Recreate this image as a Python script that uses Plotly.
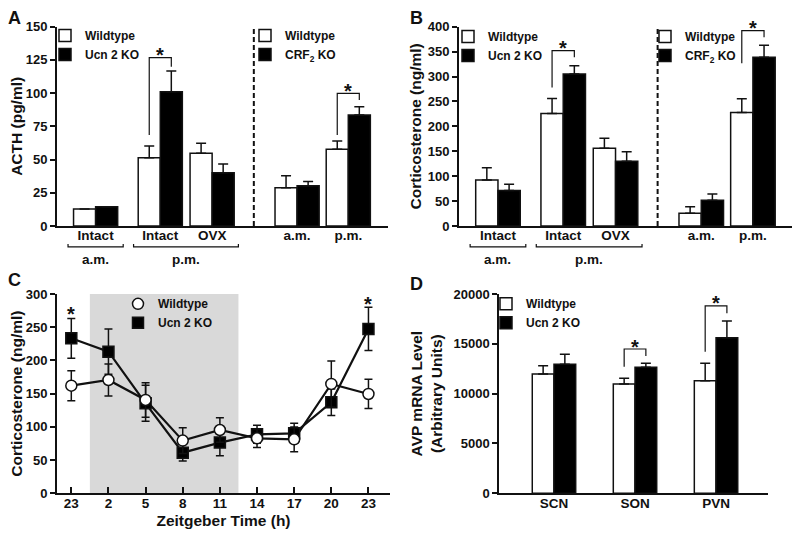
import plotly.graph_objects as go

FONT = "Liberation Sans, Arial, Helvetica, sans-serif"
# the page body adds an 8px margin, so the figure is sized to fill the rest of the window
OFF = 8
W, H = 800 - OFF, 537 - OFF

# ---------------- data ----------------
# Panel A: ACTH (pg/ml)
a_ucn_groups = ["Intact", "Intact", "OVX"]
a_ucn_wt = [12.8, 51.4, 54.7]
a_ucn_wt_err = [0, 8.8, 7.5]
a_ucn_ko = [14.5, 101.1, 40.1]
a_ucn_ko_err = [0, 15.5, 6.6]
a_crf_groups = ["a.m.", "p.m."]
a_crf_wt = [28.8, 57.7]
a_crf_wt_err = [9.1, 6.3]
a_crf_ko = [30.3, 83.5]
a_crf_ko_err = [3.1, 6.3]

# Panel B: Corticosterone (ng/ml)
b_ucn_wt = [92.3, 226.0, 155.9]
b_ucn_wt_err = [24.7, 30.0, 20.0]
b_ucn_ko = [71.0, 305.0, 129.8]
b_ucn_ko_err = [12.6, 16.7, 19.4]
b_crf_wt = [25.4, 228.0]
b_crf_wt_err = [13.4, 27.5]
b_crf_ko = [51.5, 338.5]
b_crf_ko_err = [12.7, 24.5]

# Panel C: circadian corticosterone
zt_labels = ["23", "2", "5", "8", "11", "14", "17", "20", "23"]
c_wt = [162.0, 170.6, 140.5, 79.3, 95.3, 82.8, 81.3, 164.6, 149.5]
c_wt_err = [22.5, 24.0, 26.0, 19.5, 18.6, 14.0, 18.6, 34.6, 22.0]
c_ko = [233.3, 213.2, 135.5, 61.2, 76.3, 88.8, 90.3, 137.0, 247.4]
c_ko_err = [30.0, 34.0, 27.0, 12.5, 19.6, 13.6, 15.0, 20.0, 32.5]

# Panel D: AVP mRNA
d_regions = ["SCN", "SON", "PVN"]
d_wt = [11970, 10970, 11300]
d_wt_err = [830, 570, 1750]
d_ko = [12940, 12640, 15610]
d_ko_err = [1010, 410, 1680]

# ---------------- layout helpers ----------------
ab_pos_ucn = [1.75, 4.68, 7.03]
ab_pos_crf = [10.88, 13.2]
ab_divider = 8.92
am_span = (0.5, 3.0)
pm_span = (3.47, 8.22)
d_pos = [0, 1, 2]
d_bw = 0.268

WT_FILL, KO_FILL, INK = "white", "black", "#111111"


def px(x):
    return (x - OFF) / W


def py(y):
    return 1 - (y - OFF) / H


def err(arr):
    return dict(type="data", array=arr, arrayminus=[0] * len(arr), symmetric=False,
                color=INK, thickness=1.5, width=5)


def bar(x, y, e, fill, name, xa, ya, legend, offset, width):
    return go.Bar(x=x, y=y, error_y=err(e), name=name, xaxis=xa, yaxis=ya,
                  legend=legend, offset=offset, width=width,
                  marker=dict(color=fill, line=dict(color=INK, width=1.5)))


fig = go.Figure()
# Panel A
fig.add_trace(bar(ab_pos_ucn, a_ucn_wt, a_ucn_wt_err, WT_FILL, "Wildtype", "x", "y", "legend", -1, 1))
fig.add_trace(bar(ab_pos_ucn, a_ucn_ko, a_ucn_ko_err, KO_FILL, "Ucn 2 KO", "x", "y", "legend", 0, 1))
fig.add_trace(bar(ab_pos_crf, a_crf_wt, a_crf_wt_err, WT_FILL, "Wildtype", "x", "y", "legend2", -1, 1))
fig.add_trace(bar(ab_pos_crf, a_crf_ko, a_crf_ko_err, KO_FILL, "CRF<sub>2</sub> KO", "x", "y", "legend2", 0, 1))
# Panel B
fig.add_trace(bar(ab_pos_ucn, b_ucn_wt, b_ucn_wt_err, WT_FILL, "Wildtype", "x2", "y2", "legend3", -1, 1))
fig.add_trace(bar(ab_pos_ucn, b_ucn_ko, b_ucn_ko_err, KO_FILL, "Ucn 2 KO", "x2", "y2", "legend3", 0, 1))
fig.add_trace(bar(ab_pos_crf, b_crf_wt, b_crf_wt_err, WT_FILL, "Wildtype", "x2", "y2", "legend4", -1, 1))
fig.add_trace(bar(ab_pos_crf, b_crf_ko, b_crf_ko_err, KO_FILL, "CRF<sub>2</sub> KO", "x2", "y2", "legend4", 0, 1))
# Panel D
fig.add_trace(bar(d_pos, d_wt, d_wt_err, WT_FILL, "Wildtype", "x4", "y4", "legend6", -d_bw, d_bw))
fig.add_trace(bar(d_pos, d_ko, d_ko_err, KO_FILL, "Ucn 2 KO", "x4", "y4", "legend6", 0, d_bw))

# Panel C
c_x = list(range(len(zt_labels)))
for vals in (c_wt, c_ko):
    fig.add_trace(go.Scatter(x=c_x, y=vals, mode="lines", xaxis="x3", yaxis="y3",
                             line=dict(color=INK, width=2.2), showlegend=False, hoverinfo="skip"))
fig.add_trace(go.Scatter(x=c_x, y=c_ko, mode="markers", name="Ucn 2 KO", xaxis="x3", yaxis="y3",
                         legend="legend5",
                         marker=dict(symbol="square", size=11, color=KO_FILL, line=dict(color=INK, width=1.5)),
                         error_y=dict(type="data", array=c_ko_err, color=INK, thickness=1.5, width=4)))
fig.add_trace(go.Scatter(x=c_x, y=c_wt, mode="markers", name="Wildtype", xaxis="x3", yaxis="y3",
                         legend="legend5",
                         marker=dict(symbol="circle", size=11, color=WT_FILL, line=dict(color=INK, width=1.5)),
                         error_y=dict(type="data", array=c_wt_err, color=INK, thickness=1.5, width=4)))

# ---------------- axes ----------------
tickf = dict(family=FONT, size=13.5, color=INK, weight="bold")
ytickf = dict(family=FONT, size=13, color=INK, weight="bold")
titlef = dict(family=FONT, size=15.5, color=INK, weight="bold")

common_y = dict(showline=True, linewidth=2, linecolor=INK, ticks="outside", ticklen=5, tickwidth=1.5,
                tickcolor=INK, showgrid=False, zeroline=False, tickfont=ytickf, automargin=False)
common_x = dict(showline=True, linewidth=2, linecolor=INK, showgrid=False, zeroline=False,
                tickfont=tickf, automargin=False, ticklabelstandoff=-4)

ab_ticks = ab_pos_ucn + ab_pos_crf
ab_text = a_ucn_groups + a_crf_groups

fig.update_layout(
    width=W, height=H, margin=dict(l=0, r=0, t=0, b=0),
    paper_bgcolor="white", plot_bgcolor="white", barmode="overlay",
    font=dict(family=FONT, color=INK),
    xaxis=dict(common_x, anchor="y", domain=[px(57), px(388)], range=[0, 15], tickvals=ab_ticks,
               ticktext=ab_text, ticks=""),
    yaxis=dict(common_y, anchor="x", domain=[py(226), py(26.7)], range=[0, 150], dtick=25,
               title=dict(text="ACTH (pg/ml)", font=titlef, standoff=8)),
    xaxis2=dict(common_x, anchor="y2", domain=[px(459), px(793)], range=[0, 15], tickvals=ab_ticks,
                ticktext=ab_text, ticks=""),
    yaxis2=dict(common_y, anchor="x2", domain=[py(226), py(26.7)], range=[0, 400], dtick=50,
                title=dict(text="Corticosterone (ng/ml)", font=titlef, standoff=2)),
    xaxis3=dict(common_x, anchor="y3", domain=[px(57), px(390)], range=[-0.385, 8.58], tickvals=c_x,
                ticktext=zt_labels, ticks="inside", ticklen=6, tickwidth=1.5, tickcolor=INK,
                title=dict(text="Zeitgeber Time (h)", font=titlef, standoff=6)),
    yaxis3=dict(common_y, anchor="x3", domain=[py(493.3), py(294)], range=[0, 300], dtick=50,
                title=dict(text="Corticosterone (ng/ml)", font=titlef, standoff=8)),
    xaxis4=dict(common_x, anchor="y4", domain=[px(499.3), px(768.3)], range=[-0.675, 2.645], tickvals=d_pos,
                ticktext=d_regions, ticks=""),
    yaxis4=dict(common_y, anchor="x4", domain=[py(493.3), py(294)], range=[0, 20000], dtick=5000,
                tickformat="d",
                title=dict(text="AVP mRNA Level<br>(Arbitrary Units)", font=titlef, standoff=7)),
)

legf = dict(family=FONT, size=12, color=INK, weight="bold")


def leg(xc, yc):
    # xc, yc: centre of the first legend symbol in window pixels
    return dict(x=px(xc - 21), y=py(yc - 14), xanchor="left", yanchor="top", font=legf,
                bgcolor="rgba(0,0,0,0)", borderwidth=0, itemwidth=30, tracegroupgap=0,
                traceorder="normal", itemclick=False)


fig.update_layout(
    legend=leg(66, 35), legend2=leg(266, 35), legend3=leg(469, 36), legend4=leg(666, 36),
    legend5=leg(139, 303.3), legend6=leg(507, 303.3),
)
fig.update_layout(legend5=dict(traceorder="reversed"))

shapes = []
annotations = []
star_font = dict(family=FONT, size=20, color=INK, weight="bold")

# dashed dividers and group brackets (A, B)
for xa, ya in (("x", "y"), ("x2", "y2")):
    shapes.append(dict(type="line", xref=xa, yref=f"{ya} domain", x0=ab_divider, x1=ab_divider, y0=0, y1=1,
                       line=dict(color=INK, width=2, dash="5px,3px")))
    for (x0, x1), lab in ((am_span, "a.m."), (pm_span, "p.m.")):
        shapes.append(dict(type="path", xref=xa, yref=f"{ya} domain",
                           path=f"M{x0},-0.09 L{x0},-0.105 L{x1},-0.105 L{x1},-0.09",
                           line=dict(color=INK, width=1.2)))
        annotations.append(dict(xref=xa, yref=f"{ya} domain", x=(x0 + x1) / 2, y=-0.168, text=lab,
                                showarrow=False, font=tickf, yanchor="middle"))

# significance brackets: (xref, yref, xleft, xright, yleft_bottom, ytop, yright_bottom)
sig = [
    ("x", "y", ab_pos_ucn[1] - 0.5, ab_pos_ucn[1] + 0.5, 68.5, 126.7, 119.9),
    ("x", "y", ab_pos_crf[1] - 0.5, ab_pos_crf[1] + 0.5, 68.5, 99.8, 94.8),
    ("x2", "y2", ab_pos_ucn[1] - 0.5, ab_pos_ucn[1] + 0.5, 278, 351.8, 338.5),
    ("x2", "y2", ab_pos_crf[1] - 0.5, ab_pos_crf[1] + 0.5, 326.4, 392, 378.6),
    ("x4", "y4", d_pos[1] - d_bw / 2, d_pos[1] + d_bw / 2, 12700, 14480, 13780),
    ("x4", "y4", d_pos[2] - d_bw / 2, d_pos[2] + d_bw / 2, 14210, 18800, 18060),
]
for xa, ya, xl, xr, yl, yt, yr in sig:
    shapes.append(dict(type="path", xref=xa, yref=ya, path=f"M{xl},{yl} L{xl},{yt} L{xr},{yt} L{xr},{yr}",
                       line=dict(color=INK, width=1.2)))
    annotations.append(dict(xref=xa, yref=ya, x=(xl + xr) / 2, y=yt, text="*", showarrow=False,
                            font=star_font, yanchor="middle", yshift=2.5))

# panel C: dark phase shading and stars
shapes.append(dict(type="rect", xref="x3", yref="y3 domain", x0=0.5, x1=4.5, y0=0, y1=1,
                   fillcolor="#d9d9d9", line=dict(width=0), layer="below"))
for xi, ys in ((0, 277), (8, 292)):
    annotations.append(dict(xref="x3", yref="y3", x=xi, y=ys, text="*", showarrow=False,
                            font=star_font, yanchor="middle", yshift=-5))

# panel letters
for lab, xc, yc in (("A", 14, 18), ("B", 416, 18), ("C", 14, 280), ("D", 416, 284)):
    annotations.append(dict(xref="paper", yref="paper", x=px(xc), y=py(yc), text=lab, showarrow=False,
                            font=dict(family=FONT, size=18, color=INK, weight="bold"),
                            xanchor="center", yanchor="middle"))

fig.update_layout(shapes=shapes, annotations=annotations)
fig.write_html("out.html")
